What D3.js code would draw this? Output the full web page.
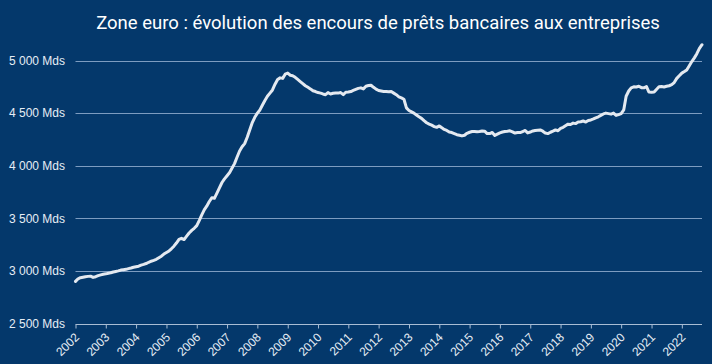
<!DOCTYPE html>
<html>
<head>
<meta charset="utf-8">
<script src="https://cdn.jsdelivr.net/npm/d3@7"></script>
<style>
  html, body { margin: 0; padding: 0; background: #04386b; }
  svg { display: block; }
</style>
</head>
<body>
<svg id="chart" width="712" height="364"></svg>
<script>
const title = "Zone euro : évolution des encours de prêts bancaires aux entreprises";
const startMonth = "2002-01";
const yTicks = [2500, 3000, 3500, 4000, 4500, 5000];
const xTickYears = [2002, 2003, 2004, 2005, 2006, 2007, 2008, 2009, 2010, 2011, 2012,
                    2013, 2014, 2015, 2016, 2017, 2018, 2019, 2020, 2021, 2022];
// Encours mensuels (Mds €), janvier 2002 -> septembre 2022
const v2002 = [2900, 2925, 2935, 2940, 2945, 2948, 2950, 2938, 2945, 2955, 2962, 2968];
const v2003 = [2972, 2978, 2982, 2990, 2995, 3000, 3008, 3012, 3015, 3022, 3028, 3035];
const v2004 = [3040, 3045, 3055, 3062, 3070, 3082, 3092, 3100, 3110, 3125, 3140, 3160];
const v2005 = [3175, 3190, 3210, 3235, 3265, 3300, 3310, 3298, 3330, 3360, 3385, 3405];
const v2006 = [3430, 3480, 3530, 3580, 3615, 3660, 3695, 3690, 3740, 3790, 3840, 3875];
const v2007 = [3905, 3935, 3975, 4020, 4080, 4140, 4180, 4210, 4270, 4340, 4410, 4460];
const v2008 = [4500, 4530, 4575, 4620, 4660, 4690, 4720, 4775, 4820, 4835, 4830, 4870];
const v2009 = [4880, 4860, 4855, 4840, 4820, 4800, 4780, 4760, 4745, 4730, 4712, 4705];
const v2010 = [4695, 4690, 4682, 4675, 4695, 4682, 4688, 4692, 4690, 4695, 4676, 4698];
const v2011 = [4700, 4705, 4715, 4725, 4735, 4740, 4730, 4755, 4762, 4765, 4745, 4728];
const v2012 = [4715, 4710, 4705, 4705, 4702, 4705, 4690, 4675, 4655, 4645, 4632, 4550];
const v2013 = [4525, 4512, 4500, 4482, 4465, 4450, 4428, 4408, 4395, 4385, 4372, 4365];
const v2014 = [4378, 4360, 4345, 4335, 4320, 4315, 4305, 4295, 4290, 4283, 4290, 4308];
const v2015 = [4318, 4325, 4325, 4322, 4325, 4330, 4328, 4305, 4305, 4316, 4288, 4300];
const v2016 = [4312, 4320, 4325, 4328, 4332, 4322, 4310, 4315, 4315, 4325, 4335, 4312];
const v2017 = [4320, 4330, 4335, 4338, 4340, 4328, 4310, 4305, 4318, 4328, 4340, 4332];
const v2018 = [4355, 4365, 4380, 4395, 4392, 4405, 4400, 4415, 4418, 4425, 4415, 4430];
const v2019 = [4435, 4445, 4455, 4465, 4478, 4492, 4500, 4495, 4490, 4500, 4478, 4485];
const v2020 = [4495, 4530, 4660, 4710, 4740, 4750, 4748, 4755, 4742, 4740, 4752, 4700];
const v2021 = [4698, 4700, 4725, 4750, 4752, 4748, 4755, 4760, 4770, 4790, 4830, 4855];
const v2022 = [4880, 4895, 4910, 4950, 4990, 5025, 5065, 5115, 5150];

const values = [].concat(v2002, v2003, v2004, v2005, v2006, v2007, v2008, v2009, v2010,
  v2011, v2012, v2013, v2014, v2015, v2016, v2017, v2018, v2019, v2020, v2021, v2022);

const parse = d3.timeParse("%Y-%m");
const t0 = parse(startMonth);
const data = values.map((v, i) => ({ date: d3.timeMonth.offset(t0, i), value: v }));

const svg = d3.select("#chart");
const margin = { left: 75.5 };

const x = d3.scaleTime()
  .domain([t0, data[data.length - 1].date])
  .range([margin.left, 702]);
const y = d3.scaleLinear()
  .domain([2500, 5000])
  .range([323.5, 60.5]);

const fmt = v => d3.format(",")(v).replace(/,/g, " ") + " Mds";

// Title
svg.append("text")
  .attr("x", 378).attr("y", 29)
  .attr("text-anchor", "middle")
  .attr("fill", "#ffffff")
  .attr("font-family", "Roboto, 'Noto Sans', sans-serif")
  .attr("font-size", 18.5)
  .text(title);

// Grid lines
svg.append("g").selectAll("line")
  .data(yTicks.filter(d => d !== 2500))
  .join("line")
  .attr("x1", margin.left).attr("x2", 702)
  .attr("y1", d => Math.round(y(d)) + 0.5).attr("y2", d => Math.round(y(d)) + 0.5)
  .attr("stroke", "#7d9cc0")
  .attr("stroke-width", 1);

// Y labels
svg.append("g").selectAll("text")
  .data(yTicks)
  .join("text")
  .attr("x", 65).attr("y", d => y(d))
  .attr("dy", "0.35em")
  .attr("text-anchor", "end")
  .attr("fill", "#e6edf5")
  .attr("font-family", "'Liberation Sans', Arial, sans-serif")
  .attr("font-size", 12)
  .text(fmt);

// X axis
const xAxis = d3.axisBottom(x)
  .tickValues(xTickYears.map(yr => new Date(yr, 0, 1)))
  .tickSize(4)
  .tickFormat(d3.timeFormat("%Y"));
const gx = svg.append("g")
  .attr("transform", `translate(0,${Math.round(y(2500)) + 0.5})`)
  .call(xAxis);
gx.select(".domain").attr("stroke", "#a9bdd4").attr("d", `M${margin.left},0H702`);
gx.selectAll(".tick line").attr("stroke", "#a9bdd4");
gx.selectAll(".tick text")
  .attr("fill", "#e6edf5")
  .attr("font-family", "'Liberation Sans', Arial, sans-serif")
  .attr("font-size", 12)
  .attr("text-anchor", "end")
  .attr("x", 0).attr("y", 0)
  .attr("dy", "0.35em")
  .attr("transform", "translate(1,10.5) rotate(-45)");

// Line
const line = d3.line()
  .x(d => x(d.date))
  .y(d => y(d.value));
svg.append("path")
  .datum(data)
  .attr("d", line)
  .attr("fill", "none")
  .attr("stroke", "#e4e9f0")
  .attr("stroke-width", 3)
  .attr("stroke-linejoin", "round")
  .attr("stroke-linecap", "round");
</script>
</body>
</html>
